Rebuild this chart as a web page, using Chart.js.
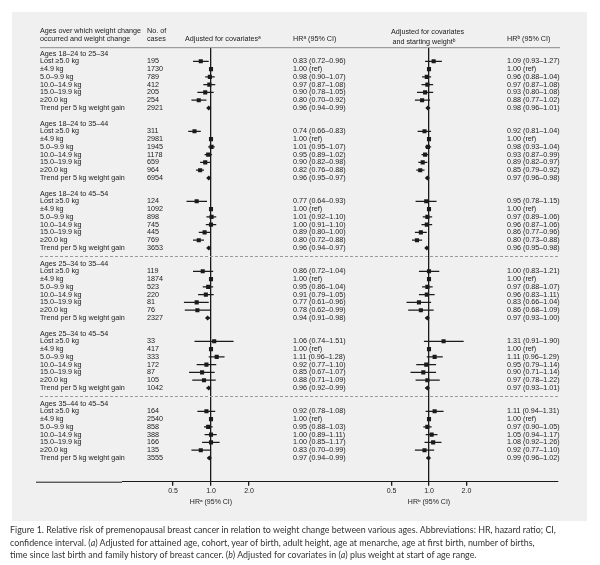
<!DOCTYPE html>
<html>
<head>
<meta charset="utf-8">
<script src="https://cdn.jsdelivr.net/npm/chart.js@4.4.1/dist/chart.umd.min.js"></script>
<style>
body { margin: 0; background: #fff; width: 600px; height: 565px; position: relative; overflow: hidden; }
#panel { position: absolute; left: 12px; top: 12px; width: 575px; height: 509px; background: #f0f0f0; }
#left { position: absolute; left: 0; top: 0; }
#right { position: absolute; left: 296px; top: 0; }
#caption { position: absolute; left: 10px; top: 524px; white-space: nowrap; font-family: Lato, 'Open Sans', sans-serif; font-size: 8.9px; line-height: 12.5px; color: #333; }
</style>
</head>
<body>
<div id="panel"></div>
<canvas id="left" width="360" height="530"></canvas>
<canvas id="right" width="300" height="530"></canvas>
<div id="caption">Figure 1. Relative risk of premenopausal breast cancer in relation to weight change between various ages. Abbreviations: HR, hazard ratio; CI,<br>confidence interval. (<i>a</i>) Adjusted for attained age, cohort, year of birth, adult height, age at menarche, age at first birth, number of births,<br>time since last birth and family history of breast cancer. (<i>b</i>) Adjusted for covariates in (<i>a</i>) plus weight at start of age range.</div>
<script>
/* ---------------- data ---------------- */

const sections = ['Ages 18–24 to 25–34', 'Ages 18–24 to 35–44', 'Ages 18–24 to 45–54',
                  'Ages 25–34 to 35–44', 'Ages 25–34 to 45–54', 'Ages 35–44 to 45–54'];
const rowLabels = ['Lost ≥5.0 kg', '±4.9 kg', '5.0–9.9 kg', '10.0–14.9 kg', '15.0–19.9 kg', '≥20.0 kg',
                   'Trend per 5 kg weight gain'];
const cases = [
  [195, 1730, 789, 412, 205, 254, 2921],
  [311, 2981, 1945, 1178, 659, 964, 6954],
  [124, 1092, 898, 745, 445, 769, 3653],
  [119, 1874, 523, 220, 81, 76, 2327],
  [33, 417, 333, 172, 87, 105, 1042],
  [164, 2540, 858, 388, 166, 135, 3555]
];

// adjusted for covariates (a)
const hrA = [
  [0.83, 1.00, 0.98, 0.97, 0.90, 0.80, 0.96],
  [0.74, 1.00, 1.01, 0.95, 0.90, 0.82, 0.96],
  [0.77, 1.00, 1.01, 1.00, 0.89, 0.80, 0.96],
  [0.86, 1.00, 0.95, 0.91, 0.77, 0.78, 0.94],
  [1.06, 1.00, 1.11, 0.92, 0.85, 0.88, 0.96],
  [0.92, 1.00, 0.95, 1.00, 1.00, 0.83, 0.97]
];
const loA = [
  [0.72, null, 0.90, 0.87, 0.78, 0.70, 0.94],
  [0.66, null, 0.95, 0.89, 0.82, 0.76, 0.95],
  [0.64, null, 0.92, 0.91, 0.80, 0.72, 0.94],
  [0.72, null, 0.86, 0.79, 0.61, 0.62, 0.91],
  [0.74, null, 0.96, 0.77, 0.67, 0.71, 0.92],
  [0.78, null, 0.88, 0.89, 0.85, 0.70, 0.94]
];
const hiA = [
  [0.96, null, 1.07, 1.08, 1.05, 0.92, 0.99],
  [0.83, null, 1.07, 1.02, 0.98, 0.88, 0.97],
  [0.93, null, 1.10, 1.10, 1.00, 0.88, 0.97],
  [1.04, null, 1.04, 1.05, 0.96, 0.99, 0.98],
  [1.51, null, 1.28, 1.10, 1.07, 1.09, 0.99],
  [1.08, null, 1.03, 1.11, 1.17, 0.99, 0.99]
];

// adjusted for covariates and starting weight (b)
const hrB = [
  [1.09, 1.00, 0.96, 0.97, 0.93, 0.88, 0.98],
  [0.92, 1.00, 0.98, 0.93, 0.89, 0.85, 0.97],
  [0.95, 1.00, 0.97, 0.96, 0.86, 0.80, 0.96],
  [1.00, 1.00, 0.97, 0.96, 0.83, 0.86, 0.97],
  [1.31, 1.00, 1.11, 0.95, 0.90, 0.97, 0.97],
  [1.11, 1.00, 0.97, 1.05, 1.08, 0.92, 0.99]
];
const loB = [
  [0.93, null, 0.88, 0.87, 0.80, 0.77, 0.96],
  [0.81, null, 0.93, 0.87, 0.82, 0.79, 0.96],
  [0.78, null, 0.89, 0.87, 0.77, 0.73, 0.95],
  [0.83, null, 0.88, 0.83, 0.66, 0.68, 0.93],
  [0.91, null, 0.96, 0.79, 0.71, 0.78, 0.93],
  [0.94, null, 0.90, 0.94, 0.92, 0.77, 0.96]
];
const hiB = [
  [1.27, null, 1.04, 1.08, 1.08, 1.02, 1.01],
  [1.04, null, 1.04, 0.99, 0.97, 0.92, 0.98],
  [1.15, null, 1.06, 1.06, 0.96, 0.88, 0.98],
  [1.21, null, 1.07, 1.11, 1.04, 1.09, 1.00],
  [1.90, null, 1.29, 1.14, 1.14, 1.22, 1.01],
  [1.31, null, 1.05, 1.17, 1.26, 1.10, 1.02]
];

const tickValues = [0.5, 1.0, 2.0];
const dashedAfter = [2, 4];   // dashed rule after these sections

/* ---------------- helpers ---------------- */

const FONT = "7.2px 'Liberation Sans', Arial, 'DejaVu Sans'";
const INK = '#1a1a1a';

function titleRow(s) { return s * 9; }
function dataRow(s, r) { return s * 9 + 1 + r; }

function hrText(v, lo, hi) {
  if (lo === null) return v.toFixed(2) + ' (ref)';
  return v.toFixed(2) + ' (' + lo.toFixed(2) + '–' + hi.toFixed(2) + ')';
}

function forestSets(hr, lo, hi) {
  const boxes = [], trend = [], ci = [];
  hr.forEach((sec, s) => sec.forEach((v, r) => {
    const y = dataRow(s, r);
    if (r === 6) trend.push({x: v, y: y});
    else boxes.push({x: v, y: y});
    if (lo[s][r] !== null) {
      ci.push({x: lo[s][r], y: y}, {x: hi[s][r], y: y}, {x: hi[s][r], y: null});
    }
  }));
  return [
    {data: ci, showLine: true, spanGaps: false, borderColor: INK, borderWidth: 1.2, pointRadius: 0},
    {data: boxes, pointStyle: 'rect', pointRadius: 2.9, backgroundColor: INK, borderWidth: 0},
    {data: trend, pointStyle: 'rectRot', pointRadius: 2.6, backgroundColor: INK, borderWidth: 0}
  ];
}

function rules(chart, x0, x1) {
  const ctx = chart.ctx, y = chart.scales.y, area = chart.chartArea;
  ctx.save();
  ctx.strokeStyle = '#8a8a8a';
  ctx.lineWidth = 1;
  ctx.beginPath();
  ctx.moveTo(x0, area.top); ctx.lineTo(x1, area.top);
  ctx.stroke();
  ctx.setLineDash([3, 2]);
  ctx.strokeStyle = '#9a9a9a';
  dashedAfter.forEach(s => {
    const py = Math.round(y.getPixelForValue(titleRow(s + 1) - 1)) + 0.5;
    ctx.beginPath();
    ctx.moveTo(x0, py); ctx.lineTo(x1, py);
    ctx.stroke();
  });
  ctx.restore();
}

function makeOptions(pad, xmin, xmax, axisTitle) {
  return {
    responsive: false,
    animation: false,
    layout: {padding: pad},
    plugins: {legend: {display: false}, tooltip: {enabled: false}},
    scales: {
      x: {
        type: 'logarithmic',
        min: xmin, max: xmax,
        bounds: 'data',
        afterBuildTicks: (axis) => { axis.ticks = tickValues.map(v => ({value: v})); },
        afterFit: (axis) => { axis.height = 48.3; },
        border: {display: true, color: INK, width: 1},
        grid: {
          drawOnChartArea: true,
          color: (c) => (c.tick && c.tick.value === 1 ? INK : 'rgba(0,0,0,0)'),
          lineWidth: 1.3,
          tickColor: INK,
          tickLength: 4
        },
        ticks: {
          padding: 1,
          color: '#222',
          font: {family: "'Liberation Sans', Arial", size: 7},
          maxRotation: 0,
          callback: (v) => Number(v).toFixed(1)
        },
        title: {
          display: true,
          text: axisTitle,
          color: '#222',
          font: {family: "'Liberation Sans', Arial, 'DejaVu Sans'", size: 7},
          padding: {top: 0, bottom: 23.8}
        }
      },
      y: {type: 'linear', reverse: true, min: -0.75, max: 55.05, display: false}
    }
  };
}

/* ---------------- left chart (a) ---------------- */

const leftText = {
  id: 'leftText',
  afterDraw(chart) {
    const ctx = chart.ctx, y = chart.scales.y, area = chart.chartArea;
    rules(chart, 40, 300);
    ctx.save();
    // axis line continues to the left of the plot area
    ctx.strokeStyle = INK;
    ctx.lineWidth = 1;
    ctx.beginPath();
    ctx.moveTo(36, area.bottom + 0.5); ctx.lineTo(area.left, area.bottom + 0.5);
    ctx.stroke();

    ctx.fillStyle = INK;
    ctx.font = FONT;
    ctx.textBaseline = 'middle';
    ctx.textAlign = 'left';
    ctx.fillText('Ages over which weight change', 40, 30.7);
    ctx.fillText('occurred and weight change', 40, 39.5);
    ctx.fillText('No. of', 147, 30.7);
    ctx.fillText('cases', 147, 39.5);
    ctx.fillText('Adjusted for covariatesᵃ', 185, 39.5);
    ctx.fillText('HRᵃ (95% CI)', 293, 39.5);
    sections.forEach((name, s) => {
      ctx.fillText(name, 40, y.getPixelForValue(titleRow(s)));
      rowLabels.forEach((lab, r) => {
        const py = y.getPixelForValue(dataRow(s, r));
        ctx.fillText(lab, 40, py);
        ctx.fillText(String(cases[s][r]), 147, py);
        ctx.fillText(hrText(hrA[s][r], loA[s][r], hiA[s][r]), 293, py);
      });
    });
    ctx.restore();
  }
};

const chartL = new Chart(document.getElementById('left').getContext('2d'), {
  type: 'scatter',
  data: {datasets: forestSets(hrA, loA, hiA)},
  options: makeOptions({left: 122, right: 60, top: 47.7, bottom: 0}, Math.pow(2, -89 / 38), Math.pow(2, 89 / 38), 'HRᵃ (95% CI)'),
  plugins: [leftText]
});

/* ---------------- right chart (b) ---------------- */

const rightText = {
  id: 'rightText',
  afterDraw(chart) {
    const ctx = chart.ctx, y = chart.scales.y;
    rules(chart, 4, 264);
    ctx.save();
    ctx.fillStyle = INK;
    ctx.font = FONT;
    ctx.textBaseline = 'middle';
    ctx.textAlign = 'left';
    ctx.fillText('Adjusted for covariates', 95, 32);
    ctx.fillText('and starting weightᵇ', 96.5, 41.7);
    ctx.fillText('HRᵇ (95% CI)', 211, 39.5);
    sections.forEach((name, s) => {
      rowLabels.forEach((lab, r) => {
        const py = y.getPixelForValue(dataRow(s, r));
        ctx.fillText(hrText(hrB[s][r], loB[s][r], hiB[s][r]), 211, py);
      });
    });
    ctx.restore();
  }
};

const chartR = new Chart(document.getElementById('right').getContext('2d'), {
  type: 'scatter',
  data: {datasets: forestSets(hrB, loB, hiB)},
  options: makeOptions({left: 0, right: 38, top: 47.7, bottom: 0}, Math.pow(2, -131 / 38), Math.pow(2, 131 / 38), 'HRᵇ (95% CI)'),
  plugins: [rightText]
});
</script>
</body>
</html>
